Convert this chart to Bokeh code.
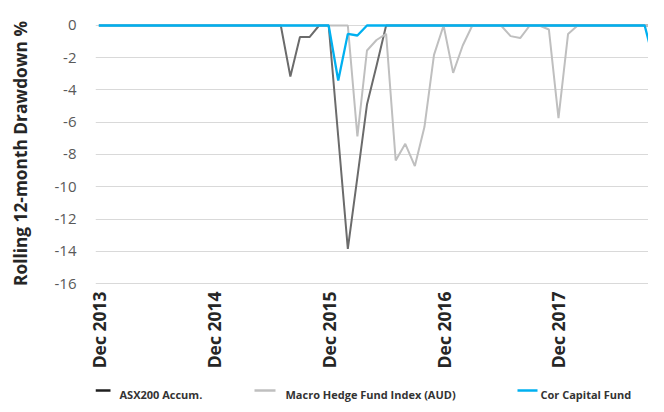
import math
from bokeh.plotting import figure
from bokeh.layouts import column
from bokeh.models import ColumnDataSource, FixedTicker, Range1d
from bokeh.core.properties import value
from bokeh.embed import file_html
from bokeh.resources import INLINE

# ---- data (monthly, Dec 2013 .. Oct 2018) ----
month_index = list(range(59))
tick_positions = [0, 12, 24, 36, 48]
tick_labels = ["Dec 2013", "Dec 2014", "Dec 2015", "Dec 2016", "Dec 2017"]
y_ticks = [0, -2, -4, -6, -8, -10, -12, -14, -16]

asx200 = [0] * 19 + [0, -3.16, -0.72, -0.72, 0, 0, -6.9, -13.85, -9.4, -4.9, -2.5, 0] + [0] * 28
macro_hedge = ([0] * 27 + [-6.88, -1.55, -0.9, -0.52, -8.37, -7.34, -8.72, -6.3, -1.82, 0,
                           -2.94, -1.24, 0, 0, 0, 0, -0.66, -0.78, 0, 0, -0.25, -5.75, -0.52, 0]
               + [0] * 8)
cor_capital = [0] * 25 + [-3.41, -0.52, -0.62, 0] + [0] * 29 + [-2.3]

series_names = ["ASX200 Accum.", "Macro Hedge Fund Index (AUD)", "Cor Capital Fund"]
line_colors = ["#6b6b6b", "#bfbfbf", "#00b0f0"]
legend_colors = ["#1f1f1f", "#bfbfbf", "#00b0f0"]

src = ColumnDataSource(dict(x=month_index, asx=asx200, macro=macro_hedge, cor=cor_capital))

W = 648
LEFT = 95
MAIN_H = 378
LEG_H = 26
p = figure(width=W, height=MAIN_H, output_backend="svg", toolbar_location=None,
           x_range=Range1d(-0.35, 57.4), y_range=Range1d(-16.062, 0.186),
           min_border_left=LEFT, min_border_right=0, min_border_top=22,
           min_border_bottom=MAIN_H - 284)
p.outline_line_color = None
p.background_fill_color = "white"
p.border_fill_color = "white"

p.line("x", "asx", source=src, line_color=line_colors[0], line_width=2)
p.line("x", "macro", source=src, line_color=line_colors[1], line_width=2)
p.line("x", "cor", source=src, line_color=line_colors[2], line_width=2.3)

# axes
p.xaxis.ticker = FixedTicker(ticks=tick_positions)
p.xaxis.major_label_overrides = {t: l for t, l in zip(tick_positions, tick_labels)}
p.xaxis.major_label_orientation = math.pi / 2
p.xaxis.major_label_text_font = "Open Sans"
p.xaxis.major_label_text_font_style = "bold"
p.xaxis.major_label_text_font_size = "17.5px"
p.xaxis.major_label_text_color = "#262626"
p.xaxis.major_label_standoff = 1

p.yaxis.ticker = FixedTicker(ticks=y_ticks)
p.yaxis.major_label_overrides = {t: str(t) for t in y_ticks}
p.yaxis.major_label_text_font = "Open Sans"
p.yaxis.major_label_text_font_size = "15px"
p.yaxis.major_label_text_color = "#595959"
p.yaxis.major_label_standoff = 13
p.yaxis.axis_label = "Rolling 12-month Drawdown %"
p.yaxis.axis_label_text_font = "Open Sans"
p.yaxis.axis_label_text_font_style = "bold"
p.yaxis.axis_label_text_font_size = "17.3px"
p.yaxis.axis_label_text_color = "#262626"
p.yaxis.axis_label_standoff = 20

for ax in (p.xaxis, p.yaxis):
    ax.axis_line_color = None
    ax.major_tick_line_color = None
    ax.minor_tick_line_color = None

p.xgrid.grid_line_color = None
p.ygrid.ticker = FixedTicker(ticks=y_ticks)
p.ygrid.grid_line_color = "#d9d9d9"
p.ygrid.grid_line_width = 1

# ---- legend strip below the chart (x measured in page pixels) ----
leg = figure(width=W, height=LEG_H, output_backend="svg", toolbar_location=None,
             x_range=Range1d(LEFT, W), y_range=Range1d(0, LEG_H),
             x_axis_type=None, y_axis_type=None,
             min_border_left=LEFT, min_border_right=0, min_border_top=0, min_border_bottom=0)
leg.outline_line_color = None
leg.grid.visible = False
swatch_x0 = [95, 254, 517]
swatch_x1 = [110, 275, 537]
label_x = [119, 285, 540]
leg.segment(x0=swatch_x0, y0=[14] * 3, x1=swatch_x1, y1=[14] * 3,
            line_color=legend_colors, line_width=2.5)
leg.text(x=label_x, y=[10] * 3, text=series_names, text_font=value("Open Sans"),
         text_font_size="11px", text_font_style="bold", text_color="#333333",
         text_baseline="alphabetic", text_align="left")

open("out.html", "w").write(file_html(column(p, leg, spacing=0), INLINE))
